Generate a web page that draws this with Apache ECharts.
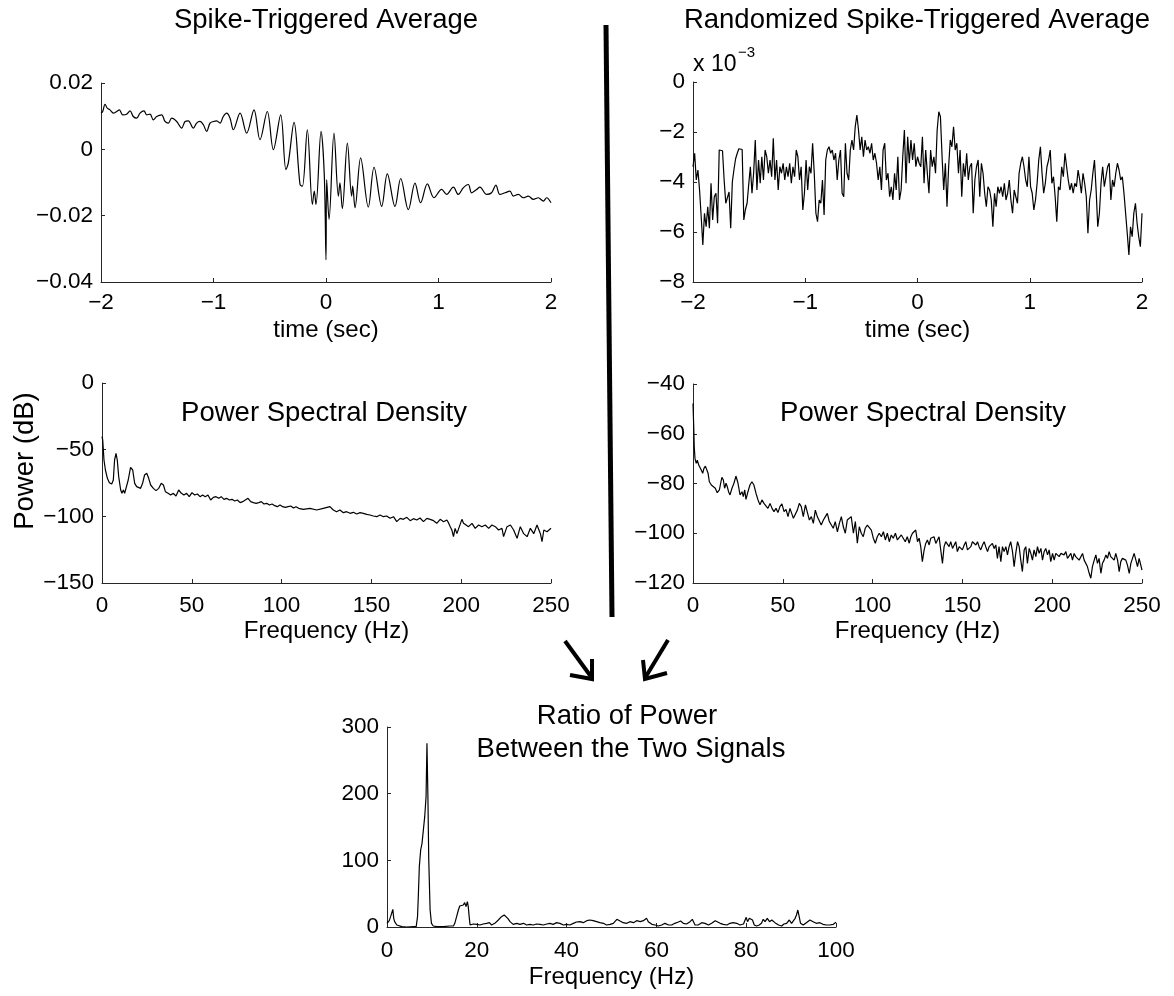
<!DOCTYPE html>
<html>
<head>
<meta charset="utf-8">
<script src="https://cdn.jsdelivr.net/npm/echarts@6/dist/echarts.min.js"></script>
<style>
html, body { margin: 0; padding: 0; background: #fff; }
#chart { width: 1174px; height: 996px; }
</style>
</head>
<body>
<div id="chart"></div>
<script>
// ---- Spike-triggered average (time in s, signal in V) ----
const staTime = [-2.000,-1.985,-1.964,-1.944,-1.920,-1.890,-1.861,-1.837,-1.807,-1.772,
  -1.742,-1.713,-1.683,-1.653,-1.618,-1.594,-1.564,-1.535,-1.505,-1.461,
  -1.431,-1.401,-1.372,-1.327,-1.283,-1.253,-1.224,-1.179,-1.150,-1.120,
  -1.090,-1.061,-1.031,-1.001,-0.972,-0.942,-0.913,-0.883,-0.853,-0.824,
  -0.764,-0.705,-0.640,-0.587,-0.522,-0.468,-0.403,-0.356,-0.335,-0.284,
  -0.231,-0.210,-0.166,-0.121,-0.104,-0.089,-0.044,-0.015,0.000,0.006,
  0.027,0.071,0.110,0.124,0.145,0.190,0.228,0.237,0.258,0.308,
  0.376,0.427,0.495,0.545,0.613,0.664,0.732,0.791,0.841,0.901,
  0.960,1.028,1.072,1.132,1.176,1.220,1.265,1.294,1.339,1.368,
  1.428,1.472,1.510,1.546,1.591,1.635,1.665,1.709,1.754,1.798,
  1.843,1.887,1.932,1.961,2.000];
const staValue = [0.0109,0.0114,0.0136,0.0124,0.0119,0.0109,0.0114,0.0119,0.0104,0.0106,
  0.0116,0.0099,0.0094,0.0109,0.0116,0.0104,0.0106,0.0089,0.0099,0.0104,
  0.0084,0.0079,0.0094,0.0084,0.0064,0.0084,0.0086,0.0064,0.0079,0.0084,
  0.0074,0.0054,0.0079,0.0084,0.0086,0.0079,0.0099,0.0109,0.0094,0.0059,
  0.0109,0.0049,0.0119,0.0029,0.0114,-0.0001,0.0104,-0.0061,-0.0041,0.0081,
  -0.0106,-0.0111,0.0059,-0.0166,-0.0126,-0.0166,0.0054,-0.0080,-0.0333,-0.0091,
  -0.0211,0.0049,-0.0141,-0.0101,-0.0179,0.0019,-0.0141,-0.0111,-0.0176,-0.0026,
  -0.0174,-0.0054,-0.0172,-0.0074,-0.0172,-0.0088,-0.0182,-0.0102,-0.0161,-0.0104,
  -0.0146,-0.0121,-0.0136,-0.0114,-0.0136,-0.0116,-0.0106,-0.0131,-0.0121,-0.0114,
  -0.0136,-0.0131,-0.0108,-0.0136,-0.0131,-0.0126,-0.0141,-0.0136,-0.0146,-0.0141,
  -0.0151,-0.0146,-0.0156,-0.0146,-0.0161];

// ---- Randomized spike-triggered average (x 10^-3), evenly sampled from -2 s to 2 s ----
const rstaValue = [
  -3.39,-2.85,-3.92,-3.52,-4.32,-5.39,-6.52,-5.25,-5.79,-4.99,-5.85,-4.05,-5.52,-4.59,-4.45,-5.65,
  -2.72,-2.80,-2.75,-3.92,-4.85,-4.80,-4.40,-5.85,-4.00,-3.50,-3.07,-2.85,-2.67,-2.65,-2.70,-5.52,-5.10,-4.85,-4.10,-3.39,
  -4.45,-3.65,-2.32,-4.32,-3.12,-4.05,
  -2.99,-3.92,-2.72,-2.99,-3.65,-3.12,-3.79,-2.25,-3.92,-3.12,
  -4.32,-3.39,-3.65,-3.25,-3.92,-3.39,-3.79,-3.25,-4.05,-3.39,
  -3.79,-2.72,-2.99,-3.92,-3.39,-5.12,-4.45,-3.12,-4.32,-3.39,
  -3.65,-2.45,-3.65,-5.25,-5.59,-4.72,-4.85,-3.92,-5.32,-3.12,
  -2.72,-2.59,-2.85,-2.72,-3.12,-2.85,-3.92,-3.12,-2.72,-4.45,
  -4.59,-2.45,-3.65,-3.92,-2.72,-2.32,-2.72,-1.79,-1.32,-1.92,
  -2.72,-2.19,-2.99,-2.32,-2.72,-2.59,-2.85,-2.45,-3.12,-2.85,
  -3.25,-3.92,-3.39,-4.32,-2.72,-2.45,-3.92,-3.65,-4.59,-4.19,
  -4.72,-3.65,-4.32,-2.99,-4.72,-4.32,-2.99,
  -1.92,-4.05,-2.19,-3.25,-2.32,-3.12,-2.45,-3.39,-2.99,-3.25,
  -3.39,-2.19,-4.05,-2.72,-3.65,-4.45,-2.72,-3.39,-2.99,-3.65,
  -1.92,-1.19,-1.39,-2.99,-4.32,-3.25,-4.99,-3.39,-2.32,-2.59,
  -1.79,-2.72,-2.45,-3.65,-2.72,-4.59,-3.25,-3.79,-2.85,-3.92,
  -3.39,-3.25,-5.25,-3.92,-3.39,-3.12,-4.59,-3.25,-3.65,-4.45,
  -4.99,-4.19,-4.32,-4.72,-5.79,-4.45,-4.99,-4.19,-4.45,-4.19,
  -4.59,-4.05,-4.72,-4.45,-3.92,-4.72,-5.25,-4.32,-4.59,-4.85,
  -3.65,-3.25,-2.99,-3.39,-3.92,-4.19,-2.99,-4.19,-4.45,-5.12,
  -4.72,-4.05,-3.12,-2.59,-3.65,-4.45,-4.05,-3.39,-3.12,-2.72,
  -4.05,-3.79,-4.59,-5.59,-4.19,-4.32,-3.39,-3.79,-2.85,-3.39,
  -3.92,-4.32,-4.05,-4.45,-4.05,-4.19,-3.52,-3.92,-4.45,-3.65,
  -4.05,-4.59,-6.05,-4.72,-4.32,-3.65,-3.12,-4.32,-5.79,-5.25,
  -4.05,-3.39,-4.19,-3.79,-3.39,-3.25,-4.72,-3.92,-4.19,-3.65,
  -3.25,-3.52,-3.92,-3.79,-4.45,-5.25,-6.05,-6.92,-5.79,-6.19,
  -5.25,-4.85,-5.65,-6.19,-6.59,-5.25];
const rstaStart = -2, rstaEnd = 2;

// ---- Power spectral density of the spike-triggered average (Hz, dB) ----
const psdSpikeFreq = [0,0.4,1.1,1.9,3.0,4.1,5.4,6.3,7.0,7.8,
  8.5,9.3,10.4,11.1,11.9,12.6,13.4,14.6,15.9,17.1,
  18.2,19.3,20.4,21.5,22.6,23.7,24.9,26.0,27.1,28.6,
  30.1,31.6,33.0,34.2,35.3,36.8,38.2,39.7,41.2,42.7,
  44.2,45.6,47.1,48.6,50.1,51.6,53.1,54.6,56.0,57.5,
  59.0,60.5,62.0,63.5,65.0,66.4,67.9,69.4,70.9,72.4,
  73.9,75.4,76.9,78.3,79.8,81.3,82.8,84.3,85.8,87.3,
  88.7,90.2,91.7,93.2,94.7,96.2,97.6,99.1,100.6,102.1,
  103.6,105.1,106.6,108.0,109.5,
  112.1,115.8,119.5,123.2,126.9,
  128.8,130.6,132.5,134.4,136.2,138.1,140.0,141.8,143.7,145.5,
  147.4,149.2,151.1,153.0,154.8,156.7,158.5,160.4,162.3,164.1,
  166.0,167.8,169.7,171.6,173.4,175.3,177.1,179.0,180.9,182.7,
  184.6,186.4,188.3,190.2,192.0,
  192.9,193.9,194.8,195.7,196.6,197.6,198.5,
  200.4,201.3,202.2,
  204.1,206.0,207.8,209.7,211.5,213.4,215.3,217.1,219.0,220.8,222.7,
  223.6,
  225.5,227.4,229.2,231.1,232.9,234.8,236.7,238.5,240.4,242.2,244.1,
  245.0,246.0,247.8,250.0];
const psdSpikePower = [-40.25,-42.75,-57.75,-65.25,-71.5,-74.75,-75.75,-72.75,-57.75,-52.75,
  -57.75,-70.25,-80.25,-82.75,-80.25,-82.75,-81.5,-72.75,-63.25,-65.25,
  -75.25,-77.75,-76.5,-79,-75.25,-69,-67.75,-71.5,-76.5,-79,
  -80.75,-79,-75.25,-76.5,-81.5,-82.75,-84,-82.75,-84.75,-80.25,
  -82.75,-84,-82.75,-85.25,-82.25,-84,-83.25,-85.25,-84,-85.25,
  -84,-87.75,-85.75,-85.25,-86.5,-85.25,-87.25,-86.5,-87.75,-87.25,
  -88.5,-87.75,-89.75,-89,-87.75,-86.5,-89,-89.75,-90.25,-89.75,
  -89,-90.75,-90.25,-91.5,-90.75,-92,-92.75,-91.5,-92.75,-93.25,
  -92.75,-92.25,-93.75,-92.75,-94,
  -94.75,-94,-95.25,-94,-92.75,
  -95.25,-96.5,-95.25,-97.25,-96.5,-97.75,-97,-98.25,-97.25,-97.75,
  -98.5,-99,-99.75,-100.25,-99,-100.25,-99.75,-101.5,-100.25,-104,
  -101.5,-102.25,-100.75,-103.25,-101.75,-102.75,-101.25,-104,-101.5,-102.25,
  -103.25,-105.25,-102.25,-104,-102.75,
  -104.75,-107.75,-110.25,-115.25,-109,-113,-111.5,
  -102.25,-105.25,-104,
  -107.75,-105.25,-109,-106.5,-107.75,-106.5,-109,-106.5,-107.75,-110.25,-109,
  -115.25,
  -107.75,-106.5,-110.25,-116.5,-107.75,-113,-115.25,-109,-113,-106.5,-113,
  -119,-110.25,-111.5,-109];

// ---- Power spectral density of the randomized average (Hz, dB) ----
const psdRandFreq = [0,0.4,0.7,1.1,1.8,2.4,3.2,3.9,4.6,5.4,6.1,6.9,7.6,8.4,9.1,
  10.2,11.3,12.4,13.5,14.7,15.4,16.1,16.9,17.6,18.4,19.1,19.8,20.6,
  21.7,22.8,23.9,25.0,26.2,27.3,28.0,28.8,29.5,30.6,31.7,32.8,33.9,35.1,
  36.2,37.3,38.4,39.5,40.6,41.7,42.9,44.0,45.1,46.2,47.3,48.4,49.5,50.7,
  51.8,52.9,54.0,55.1,55.9,57.0,58.1,59.2,60.3,61.4,62.6,63.7,64.8,65.9,
  67.0,68.1,69.2,70.3,71.4,72.6,73.7,74.8,75.9,77.0,78.1,79.2,80.4,81.5,
  82.6,83.7,84.8,85.9,87.0,88.1,89.3,90.4,91.5,92.6,93.7,94.8,95.9,97.1,
  98.2,99.3,100.4,101.5,102.6,103.7,104.9,106.0,107.1,108.2,109.3,110.4,
  111.5,112.7,113.8,114.9,116.0,117.1,118.2,119.3,120.4,
  121.3,122.2,123.1,124.0,125.0,125.9,126.8,127.7,128.7,129.6,
  130.5,131.5,132.4,133.3,134.2,135.2,136.1,137.0,138.0,138.9,
  139.8,140.7,141.7,142.6,143.5,144.5,145.4,146.3,147.2,148.2,
  149.1,150.0,151.0,151.9,152.8,153.7,154.7,155.6,156.5,157.5,
  158.4,159.3,160.2,161.2,162.1,163.0,164.0,164.9,165.8,166.7,
  167.7,168.6,169.5,170.4,171.4,172.3,173.2,174.2,175.1,176.0,
  176.9,177.9,178.8,179.7,180.7,181.6,182.5,183.4,184.4,185.3,
  186.2,187.2,188.1,189.0,189.9,190.9,191.8,192.7,193.7,194.6,
  195.5,196.4,197.4,198.3,199.2,200.2,201.1,202.0,202.9,203.9,
  204.8,205.7,206.6,207.6,208.5,209.4,210.4,211.3,212.2,213.1,
  214.1,215.0,215.9,216.9,217.8,218.7,219.6,220.6,221.5,222.4,
  223.4,224.3,225.2,226.1,227.1,228.0,228.9,229.9,230.8,231.7,
  232.6,233.6,234.5,235.4,236.4,237.3,238.2,239.1,240.1,241.0,
  241.9,242.9,243.8,244.7,245.6,246.6,247.5,248.4,249.3,250.0];
const psdRandPower = [-47.8,-57.2,-65.2,-69.9,-71.9,-70.6,-72.6,-73.2,-74.6,-75.9,-73.9,-73.0,-73.2,-75.9,-79.3,
  -80.6,-80.2,-81.9,-83.7,-82.6,-79.9,-77.5,-78.6,-81.9,-79.9,-81.3,-83.3,-84.6,
  -81.9,-79.9,-77.0,-79.7,-84.6,-83.3,-85.3,-82.6,-86.4,-83.3,-80.6,-79.3,-80.6,-84.0,
  -86.6,-88.6,-86.6,-88.0,-87.3,-90.0,-88.0,-90.0,-91.3,-90.0,-91.7,-89.3,-88.2,-91.3,
  -90.4,-93.3,-90.0,-89.3,-94.0,-94.7,-90.7,-88.0,-89.3,-93.3,-88.6,-89.3,-94.7,-93.3,
  -96.0,-90.7,-93.3,-92.7,-96.7,-94.7,-93.3,-92.0,-95.3,-96.0,-98.0,-95.3,-99.4,-96.0,
  -93.3,-97.4,-100.0,-94.7,-94.0,-93.3,-100.0,-95.3,-104.0,-97.4,-100.0,-101.4,-98.0,-96.7,
  -97.4,-98.7,-102.0,-104.0,-101.4,-100.0,-101.4,-99.4,-102.7,-100.0,-103.4,-100.7,
  -102.0,-100.0,-102.7,-103.4,-100.7,-101.4,-103.4,-101.4,-104.0,
  -101.4,-100.0,-99.4,-98.7,-103.4,-102.0,-105.4,-111.4,-106.7,-104.1,
  -102.7,-104.7,-102.0,-102.7,-101.4,-104.1,-103.4,-101.4,-100.7,-112.1,
  -105.4,-103.4,-104.1,-105.4,-103.4,-106.1,-105.4,-103.4,-107.4,-105.4,
  -104.7,-106.7,-104.7,-103.4,-106.7,-107.4,-105.4,-103.4,-102.7,-104.7,
  -103.4,-105.4,-106.7,-104.7,-103.4,-105.4,-107.4,-105.4,-106.1,-104.1,
  -106.1,-104.7,-110.1,-105.4,-111.4,-105.4,-107.4,-105.4,-108.7,-105.4,
  -103.4,-107.4,-113.4,-108.1,-103.4,-105.4,-110.8,-115.4,-106.7,-105.4,
  -112.1,-106.1,-108.1,-110.8,-106.7,-109.4,-105.4,-108.1,-106.1,-110.8,
  -107.4,-106.1,-108.7,-106.7,-111.4,-108.1,-110.8,-108.1,-107.4,-109.4,
  -108.1,-107.8,-108.7,-107.4,-110.1,-109.4,-108.1,-110.8,-108.1,-109.4,
  -108.7,-110.8,-110.1,-108.1,-110.8,-110.1,-113.4,-116.1,-118.1,-113.4,
  -110.8,-108.7,-112.1,-110.1,-116.1,-112.1,-110.8,-108.7,-110.1,-107.4,
  -109.4,-108.7,-110.8,-108.1,-110.8,-115.4,-111.4,-110.1,-109.4,-110.8,
  -112.8,-116.1,-112.1,-110.1,-108.1,-110.8,-113.4,-110.1,-110.8,-114.8];

// ---- Ratio of power between the two signals ----
const ratioFreq = [0.0,0.3,0.5,0.8,1.0,1.3,1.5,1.7,1.9,2.2,
  2.5,3.3,4.4,5.9,6.5,6.8,7.0,7.2,7.5,7.8,
  8.1,8.4,8.7,8.9,9.1,9.3,9.6,9.9,10.3,11.1,
  12.5,14.0,14.8,15.1,15.5,15.9,16.2,16.6,17.0,17.3,
  17.6,17.9,18.1,18.3,18.5,18.9,19.2,19.6,20.0,20.7,
  21.4,22.2,22.8,23.3,24.0,24.8,25.5,26.1,26.5,26.9,
  27.4,28.1,28.9,29.6,30.4,31.1,31.8,32.6,33.3,34.1,
  34.8,35.6,36.3,37.0,37.8,38.5,39.3,40.0,40.7,41.5,
  42.2,43.0,43.7,44.5,
  45.2,45.9,46.7,47.4,48.2,48.9,49.7,50.4,51.2,51.9,
  52.6,53.4,54.1,54.9,55.6,56.4,57.1,57.8,58.2,59.0,
  59.7,60.4,61.2,61.9,62.7,63.4,64.1,64.9,65.4,66.0,
  66.7,67.5,68.0,68.6,69.3,70.1,70.8,71.6,72.3,73.1,
  73.4,74.2,74.9,75.7,76.4,77.1,77.9,78.6,79.4,80.0,
  80.3,80.7,81.1,81.4,81.8,82.3,82.9,83.4,83.8,84.2,
  84.7,85.2,85.7,86.4,87.2,87.9,88.4,89.0,89.6,90.1,
  90.5,90.9,91.2,91.5,91.8,92.1,92.7,93.4,94.2,94.9,
  95.6,96.4,97.1,97.9,98.6,99.4,100.0];
const ratioValue = [5.5,5.5,9.5,15.5,13,26.5,13,8,5.5,3,
  0.5,0.5,0,0.5,0.5,15.5,50.5,90.5,115.5,125.5,
  145.5,165.5,195.5,275.5,200.5,100.5,25.5,5.5,1.5,0.5,
  0.5,1.5,1.5,5.5,15.5,25.5,31.5,34.5,33,36.5,
  30.5,38,30.5,15.5,3,3,4.5,3,4,3,
  4.5,5.5,6.5,3,5.5,10.5,15.5,18,20.5,13,
  8,4,5.5,4,5.5,3,4,3,4.5,4,
  3,4.5,5.5,4,6.5,5.5,3,4,3,5.5,
  7.5,8,6.5,9.5,
  10.5,9.5,8,6.5,5.5,3,4,5.5,11.5,9,
  6.5,5.5,8,6.5,9.5,8,9.5,13,8,4,
  3,1.5,3,5.5,3,3,5.5,7.5,9,5.5,
  4.5,8,11.5,3,3,6.5,5.5,3,5.5,9.5,
  10.5,5.5,4,3,5.5,6.5,5.5,3,4.5,14.5,
  8,13,15.5,10.5,3,1.5,3,5.5,11.5,8,
  13,8,10.5,6.5,3,1.5,4.5,5.5,10.5,5.5,
  8,13,18,25.5,15.5,5.5,3,6.5,10.5,8,
  5.5,6.5,4,3,3,4,7];

// ---- tick settings ----
const staTicks = { min: -0.04, max: 0.02, interval: 0.02 };
const rstaTicks = { min: -8, max: 0, interval: 2 };
const timeTicks = { min: -2, max: 2, interval: 1 };
const psdSpikeTicks = { min: -150, max: 0, interval: 50 };
const psdRandTicks = { min: -120, max: -40, interval: 20 };
const psdFreqTicks = { min: 0, max: 250, interval: 50 };
const ratioTicks = { min: 0, max: 300, interval: 100 };
const ratioFreqTicks = { min: 0, max: 100, interval: 20 };

const FONT = "'Liberation Sans', Arial, Helvetica, sans-serif";
const INK = '#000';
const AXIS_INK = '#262626';
const TITLE_SIZE = 27.5;

function pairs(xs, ys) { return xs.map((x, i) => [x, ys[i]]); }
const rstaTime = rstaValue.map((_, i) => rstaStart + (rstaEnd - rstaStart) * i / (rstaValue.length - 1));

function fmt(v) {
  const s = String(Math.round(v * 1e6) / 1e6);
  return s.replace('-', '\u2212');
}

function axis(gridIndex, ticks, extra) {
  const base = {
    type: 'value',
    gridIndex,
    min: ticks.min, max: ticks.max, interval: ticks.interval,
    axisLine: { show: true, onZero: false, lineStyle: { color: AXIS_INK, width: 1 } },
    axisTick: { show: true, inside: true, length: 4, lineStyle: { color: AXIS_INK, width: 1 } },
    axisLabel: { color: INK, fontSize: 22.5, fontFamily: FONT, margin: 8, formatter: fmt,
                 showMinLabel: true, showMaxLabel: true },
    splitLine: { show: false },
    nameTextStyle: { color: INK, fontSize: 24, fontFamily: FONT }
  };
  if (extra && extra.labelMargin != null) {
    base.axisLabel.margin = extra.labelMargin;
    delete extra.labelMargin;
  }
  return Object.assign(base, extra || {});
}

function lineSeries(i, data, smooth) {
  return {
    type: 'line', xAxisIndex: i, yAxisIndex: i, data,
    showSymbol: false, symbol: 'none', smooth: smooth || false,
    lineStyle: { color: INK, width: 1.2 },
    emphasis: { disabled: true }, silent: true, animation: false
  };
}

function label(text, x, y, size, extra) {
  return Object.assign({
    type: 'text', x, y, silent: true,
    style: { text, fill: INK, font: `${size}px ${FONT}`,
             align: 'center', verticalAlign: 'middle',
             textAlign: 'center', textVerticalAlign: 'middle' }
  }, extra || {});
}

const grids = [
  { left: 101, top: 83, width: 450, height: 199 },
  { left: 693, top: 82, width: 449, height: 200 },
  { left: 102, top: 383, width: 449, height: 200 },
  { left: 693, top: 384, width: 449, height: 199 },
  { left: 387, top: 727, width: 449, height: 200 }
].map(g => Object.assign({ outerBoundsMode: 'none', containLabel: false }, g));

const option = {
  backgroundColor: '#fff',
  animation: false,
  grid: grids,
  xAxis: [
    axis(0, timeTicks, { name: 'time (sec)', nameLocation: 'middle', nameGap: 36, labelMargin: 9 }),
    axis(1, timeTicks, { name: 'time (sec)', nameLocation: 'middle', nameGap: 36, labelMargin: 9 }),
    axis(2, psdFreqTicks, { name: 'Frequency (Hz)', nameLocation: 'middle', nameGap: 36, labelMargin: 11 }),
    axis(3, psdFreqTicks, { name: 'Frequency (Hz)', nameLocation: 'middle', nameGap: 36, labelMargin: 11 }),
    axis(4, ratioFreqTicks, { name: 'Frequency (Hz)', nameLocation: 'middle', nameGap: 38, labelMargin: 12 })
  ],
  yAxis: [
    axis(0, staTicks),
    axis(1, rstaTicks),
    axis(2, psdSpikeTicks),
    axis(3, psdRandTicks),
    axis(4, ratioTicks)
  ],
  series: [
    lineSeries(0, pairs(staTime, staValue), 0.35),
    lineSeries(1, pairs(rstaTime, rstaValue)),
    lineSeries(2, pairs(psdSpikeFreq, psdSpikePower)),
    lineSeries(3, pairs(psdRandFreq, psdRandPower)),
    lineSeries(4, pairs(ratioFreq, ratioValue))
  ],
  graphic: [
    label('Spike-Triggered Average', 326, 20, TITLE_SIZE),
    label('Randomized Spike-Triggered Average', 917, 20, TITLE_SIZE),
    label('Power Spectral Density', 324, 413, TITLE_SIZE),
    label('Power Spectral Density', 923, 413, TITLE_SIZE),
    label('Ratio of Power', 627, 716, TITLE_SIZE),
    label('Between the Two Signals', 631, 749, TITLE_SIZE),
    label('Power (dB)', 25, 461, TITLE_SIZE, { rotation: Math.PI / 2 }),
    { type: 'text', x: 693, y: 65, silent: true,
      style: { text: 'x 10', fill: INK, font: `23px ${FONT}`, align: 'left', verticalAlign: 'middle',
               textAlign: 'left', textVerticalAlign: 'middle' } },
    { type: 'text', x: 738, y: 53, silent: true,
      style: { text: '\u22123', fill: INK, font: `15px ${FONT}`, align: 'left', verticalAlign: 'middle',
               textAlign: 'left', textVerticalAlign: 'middle' } },
    // divider between the two columns
    { type: 'line', silent: true, shape: { x1: 606, y1: 25, x2: 612, y2: 617 },
      style: { stroke: INK, lineWidth: 5 } },
    // arrows leading into the ratio plot
    { type: 'polyline', silent: true, shape: { points: [[565, 641], [592, 678]] },
      style: { stroke: INK, lineWidth: 4, fill: null } },
    { type: 'polyline', silent: true, shape: { points: [[570, 675], [592, 679], [592, 659]] },
      style: { stroke: INK, lineWidth: 4, fill: null, lineJoin: 'miter' } },
    { type: 'polyline', silent: true, shape: { points: [[668, 640], [645, 678]] },
      style: { stroke: INK, lineWidth: 4, fill: null } },
    { type: 'polyline', silent: true, shape: { points: [[643, 660], [645, 679], [667, 673]] },
      style: { stroke: INK, lineWidth: 4, fill: null, lineJoin: 'miter' } }
  ]
};

const chart = echarts.init(document.getElementById('chart'), null, { renderer: 'canvas' });
chart.setOption(option);
</script>
</body>
</html>
